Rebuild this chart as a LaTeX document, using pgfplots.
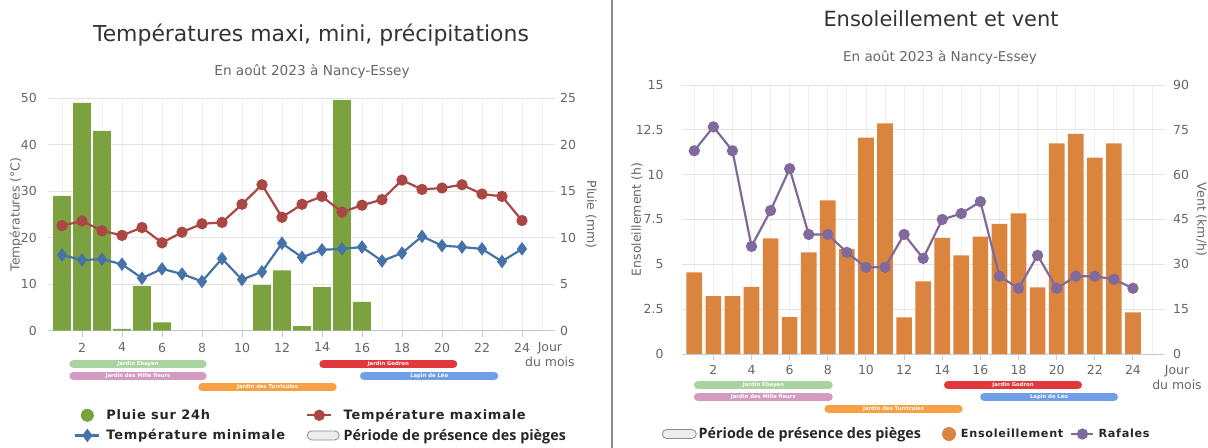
\documentclass[border=0pt]{standalone}
\usepackage{fontspec}
\setmainfont{DejaVu Sans}
\newfontfamily\spacedfont[LetterSpace=6]{DejaVu Sans}
\newfontfamily\perfont{Open Sans}
\usepackage{pgfplots}
\usepackage{pgfplotstable}
\pgfplotsset{compat=1.18}

\definecolor{rain}{HTML}{7BA23F}
\definecolor{tmax}{HTML}{AA4643}
\definecolor{tmin}{HTML}{4572A7}
\definecolor{sun}{HTML}{DB843D}
\definecolor{raf}{HTML}{80699B}
\definecolor{hgrid}{HTML}{E3E3E3}
\definecolor{vgrid}{HTML}{EFEFEF}
\definecolor{axisc}{HTML}{C0D0E0}
\definecolor{txt}{HTML}{666666}
\definecolor{titc}{HTML}{333333}
\definecolor{gGreen}{HTML}{A9D3A0}
\definecolor{gPink}{HTML}{D39BC1}
\definecolor{gOrange}{HTML}{F7A144}
\definecolor{gRed}{HTML}{E0383C}
\definecolor{gBlue}{HTML}{6F9FE6}

\newcommand\tickfont{\fontsize{12.5}{15}\selectfont}
\newcommand\labfont{\fontsize{12.5}{15}\selectfont}
\newcommand\ganttfont{\fontsize{5.3}{6}\selectfont\bfseries}

\pgfplotstableread{
d rain tmax tmin
1 14.5 22.6 16.3
2 24.5 23.6 15.2
3 21.5 21.5 15.4
4 0.2 20.5 14.3
5 4.8 22.2 11.3
6 0.9 18.9 13.3
7 0 21.2 12.2
8 0 23.0 10.6
9 0 23.3 15.5
10 0 27.2 11.0
11 4.9 31.4 12.7
12 6.5 24.4 18.8
13 0.5 27.2 15.8
14 4.7 28.9 17.4
15 24.8 25.5 17.6
16 3.1 27.0 18.0
17 0 28.2 15.0
18 0 32.4 16.7
19 0 30.4 20.3
20 0 30.7 18.3
21 0 31.4 18.0
22 0 29.4 17.6
23 0 28.9 14.9
24 0 23.7 17.6
}\tabA

\pgfplotstableread{
d sun raf
1 4.55 68
2 3.23 76
3 3.23 68
4 3.75 36
5 6.45 48
6 2.06 62
7 5.67 40
8 8.57 40
9 5.85 34
10 12.06 29
11 12.86 29
12 2.04 40
13 4.05 32
14 6.47 45
15 5.50 47
16 6.54 51
17 7.25 26
18 7.84 22
19 3.72 33
20 11.75 22
21 12.27 26
22 10.95 26
23 11.75 25
24 2.32 22
}\tabB

\pgfplotsset{
  common/.style={
    scale only axis,
    axis x line*=bottom, axis y line*=left,
    x axis line style={draw=axisc, line width=1bp},
    y axis line style={draw=none},
    xtick={2,4,...,24}, minor xtick={1,...,25},
    xmajorgrids, xminorgrids, ymajorgrids,
    major x grid style={draw=vgrid, line width=0.8bp},
    minor x grid style={draw=vgrid, line width=0.8bp},
    major y grid style={draw=hgrid, line width=1bp},
    tick align=outside,
    major tick length=6bp, minor tick length=0pt,
    xtick style={draw=axisc, line width=1bp},
    ytick style={draw=none},
    tick label style={font=\tickfont, text=txt, inner sep=0pt},
    /pgf/number format/assume math mode=true,
    clip=false,
  },
  second/.style={
    scale only axis,
    axis x line=none, axis y line*=right,
    y axis line style={draw=none},
    ytick style={draw=none},
    major tick length=0pt,
    tick label style={font=\tickfont, text=txt, inner sep=0pt},
    /pgf/number format/assume math mode=true,
  },
  gantt/.style={
    scale only axis, hide axis, clip=false,
    ymin=0, ymax=4,
  },
  linelegend/.style={
    legend image code/.code={\draw[mark repeat=2, mark phase=2] plot coordinates {(0bp,0bp) (12bp,0bp) (24bp,0bp)};}
  },
}

\begin{document}
\begin{tikzpicture}
\path[use as bounding box] (0,0) rectangle (1208bp,-448bp);

% separator
\draw[color=black!45, line width=1.5bp] (612bp,0bp) -- (612bp,-448bp);

% ===== Left chart =====
\node[font=\fontsize{22}{26}\selectfont, text=titc] at (311bp,-35bp) {Températures maxi, mini, précipitations};
\node[font=\fontsize{13.7}{16}\selectfont, text=txt] at (312bp,-71bp) {En août 2023 à Nancy-Essey};

\begin{axis}[second,
  at={(48bp,-330.7bp)}, anchor=south west,
  width=507bp, height=232.4bp,
  xmin=0.3, xmax=25.65, ymin=0, ymax=25,
  ytick={0,5,...,25},
  yticklabel style={xshift=5bp},
  every axis y label/.style={at={(axis description cs:1.071,0.5)}, rotate=-90, anchor=center, font=\labfont, text=txt},
  ylabel={Pluie (mm)},
]
\end{axis}

\begin{axis}[common,
  at={(48bp,-330.7bp)}, anchor=south west,
  width=507bp, height=232.4bp,
  xmin=0.3, xmax=25.65, ymin=0, ymax=50,
  ytick={0,10,...,50},
  yticklabel style={xshift=-5bp},
  xticklabel style={yshift=-6bp},
  every axis y label/.style={at={(axis description cs:-0.0631,0.5)}, rotate=90, anchor=center, font=\labfont, text=txt},
  ylabel={Températures (°C)},
  every axis x label/.style={at={(axis description cs:0.990,-0.1046)}, anchor=center, align=center, font=\labfont, text=txt},
  xlabel={Jour\\du mois},
  legend cell align=left,
  legend style={at={(axis description cs:0.0455,-0.408)}, anchor=west, draw=none, fill=none,
    legend columns=2, font=\fontsize{13}{16}\selectfont\bfseries, text=black!85,
    /tikz/column 1/.style={column sep=4bp},
    /tikz/column 2/.style={column sep=19bp},
    /tikz/column 3/.style={column sep=2bp}, row sep=4bp},
]
\addplot[ybar, bar width=0.88, fill=rain, draw=none,
  legend image code/.code={\fill[rain] (12bp,0bp) circle (6.5bp);}]
  table[x=d, y expr=2*\thisrow{rain}] {\tabA};
\addlegendentry{\spacedfont\bfseries Pluie sur 24h}
\addplot[linelegend, color=tmax, line width=2.2bp, mark=*, mark size=4.5bp, mark options={solid}]
  table[x=d, y=tmax] {\tabA};
\addlegendentry{\spacedfont\bfseries Température maximale}
\addplot[linelegend, color=tmin, line width=2.2bp, mark=diamond*, mark size=5bp, mark options={solid}]
  table[x=d, y=tmin] {\tabA};
\addlegendentry{\spacedfont\bfseries Température minimale}
\addlegendimage{legend image code/.code={\draw[fill=black!7, draw=black!45, line width=0.8bp, rounded corners=4.5bp] (0bp,-4.5bp) rectangle (32bp,4.5bp);}}
\addlegendentry{\perfont\bfseries\fontsize{14.4}{16}\selectfont Période de présence des pièges}
\end{axis}

\begin{axis}[gantt,
  at={(48bp,-398.8bp)}, anchor=south west,
  width=507bp, height=46bp,
  xmin=0.3, xmax=25.65,
]
\addplot[gGreen, line width=8bp, line cap=round] coordinates {(1.565,3) (8.035,3)};
\addplot[gPink, line width=8bp, line cap=round] coordinates {(1.565,2) (8.035,2)};
\addplot[gOrange, line width=8bp, line cap=round] coordinates {(8.015,1) (14.535,1)};
\addplot[gRed, line width=8bp, line cap=round] coordinates {(14.065,3) (20.565,3)};
\addplot[gBlue, line width=8bp, line cap=round] coordinates {(16.1,2) (22.615,2)};
\node[font=\ganttfont, text=white] at (axis cs:4.8,3) {Jardin Ebayen};
\node[font=\ganttfont, text=white] at (axis cs:4.8,2) {Jardin des Mille fleurs};
\node[font=\ganttfont, text=white] at (axis cs:11.275,1) {Jardin des Turricules};
\node[font=\ganttfont, text=white] at (axis cs:17.315,3) {Jardin Godron};
\node[font=\ganttfont, text=white] at (axis cs:19.36,2) {Lapin de Léo};
\end{axis}

% ===== Right chart =====
\node[font=\fontsize{21}{25}\selectfont, text=titc] at (941bp,-19bp) {Ensoleillement et vent};
\node[font=\fontsize{13.6}{16}\selectfont, text=txt] at (940bp,-57bp) {En août 2023 à Nancy-Essey};

\begin{axis}[second,
  at={(681.7bp,-354bp)}, anchor=south west,
  width=483.3bp, height=269bp,
  xmin=0.34, xmax=25.68, ymin=0, ymax=90,
  ytick={0,15,...,90},
  yticklabel style={xshift=8bp},
  every axis y label/.style={at={(axis description cs:1.0749,0.5)}, rotate=-90, anchor=center, font=\labfont, text=txt},
  ylabel={Vent (km/h)},
]
\end{axis}

\begin{axis}[common,
  at={(681.7bp,-354bp)}, anchor=south west,
  width=483.3bp, height=269bp,
  xmin=0.34, xmax=25.68, ymin=0, ymax=15,
  ytick={0,2.5,5,7.5,10,12.5,15},
  yticklabel style={xshift=-12bp},
  xticklabel style={yshift=-5bp},
  every axis y label/.style={at={(axis description cs:-0.0925,0.5)}, rotate=90, anchor=center, font=\labfont, text=txt},
  ylabel={Ensoleillement (h)},
  every axis x label/.style={at={(axis description cs:1.0248,-0.0874)}, anchor=center, align=center, font=\labfont, text=txt},
  xlabel={Jour\\du mois},
  legend cell align=left,
  legend style={at={(axis description cs:-0.0475,-0.2974)}, anchor=west, draw=none, fill=none,
    legend columns=3, font=\fontsize{11.3}{15}\selectfont\bfseries, text=black!85,
    /tikz/column 2/.style={column sep=19bp},
    /tikz/column 3/.style={column sep=3bp},
    /tikz/column 4/.style={column sep=5bp},
    /tikz/column 5/.style={column sep=2bp}},
]
\addlegendimage{legend image code/.code={\draw[fill=black!7, draw=black!45, line width=0.8bp, rounded corners=4.5bp] (0bp,-4.5bp) rectangle (34bp,4.5bp);}}
\addlegendentry{\perfont\bfseries\fontsize{14.4}{16}\selectfont Période de présence des pièges}
\addplot[ybar, bar width=0.82, fill=sun, draw=none,
  legend image code/.code={\fill[sun] (7bp,0bp) circle (7bp);}]
  table[x=d, y=sun] {\tabB};
\addlegendentry{\spacedfont\bfseries Ensoleillement}
\addplot[linelegend, color=raf, line width=2.2bp, mark=*, mark size=4.5bp, mark options={solid},
  legend image code/.code={\draw[mark repeat=2, mark phase=2] plot coordinates {(0bp,0bp) (11bp,0bp) (22bp,0bp)};}]
  table[x=d, y expr=\thisrow{raf}/6] {\tabB};
\addlegendentry{\spacedfont\bfseries Rafales}
\end{axis}

\begin{axis}[gantt,
  at={(681.7bp,-420.55bp)}, anchor=south west,
  width=483.3bp, height=47.4bp,
  xmin=0.34, xmax=25.68,
]
\addplot[gGreen, line width=8bp, line cap=round] coordinates {(1.19,3) (8.05,3)};
\addplot[gPink, line width=8bp, line cap=round] coordinates {(1.19,2) (8.05,2)};
\addplot[gOrange, line width=8bp, line cap=round] coordinates {(8.03,1) (14.86,1)};
\addplot[gRed, line width=8bp, line cap=round] coordinates {(14.3,3) (21.12,3)};
\addplot[gBlue, line width=8bp, line cap=round] coordinates {(16.2,2) (23.0,2)};
\node[font=\ganttfont, text=white] at (axis cs:4.62,3) {Jardin Ebayen};
\node[font=\ganttfont, text=white] at (axis cs:4.62,2) {Jardin des Mille fleurs};
\node[font=\ganttfont, text=white] at (axis cs:11.445,1) {Jardin des Turricules};
\node[font=\ganttfont, text=white] at (axis cs:17.71,3) {Jardin Godron};
\node[font=\ganttfont, text=white] at (axis cs:19.6,2) {Lapin de Léo};
\end{axis}

\end{tikzpicture}
\end{document}
